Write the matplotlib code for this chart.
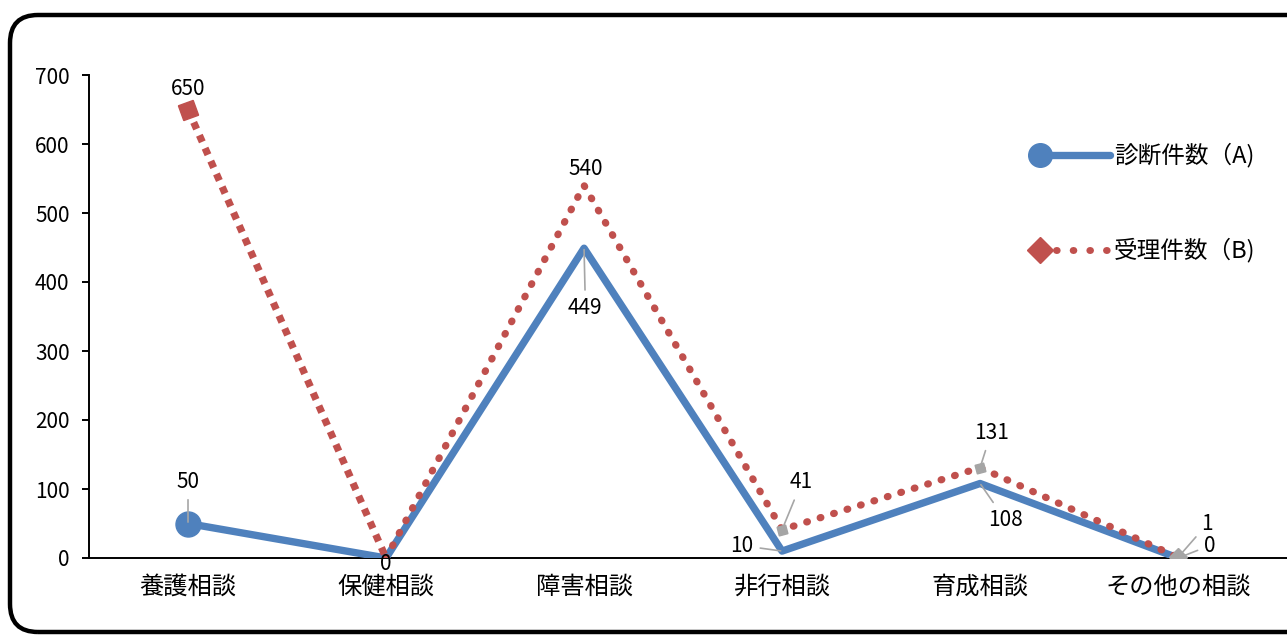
import matplotlib.pyplot as plt
from matplotlib.lines import Line2D
from matplotlib.patches import FancyBboxPatch

plt.rcParams['font.family'] = ['Noto Sans CJK JP', 'DejaVu Sans']

# data
categories = ['養護相談', '保健相談', '障害相談', '非行相談', '育成相談', 'その他の相談']
diagnosed = [50, 0, 449, 10, 108, 0]     # 診断件数（A)
received = [650, 0, 540, 41, 131, 1]     # 受理件数（B)
yticks = [0, 100, 200, 300, 400, 500, 600, 700]
legend_labels = ['診断件数（A)', '受理件数（B)']

blue = '#4F81BD'
red = '#C0504D'
grey = '#A5A5A5'
W, H = 1287, 635

fig = plt.figure(figsize=(W / 100, H / 100), dpi=100)
ax = fig.add_axes([89 / W, 77 / H, 1198 / W, 483 / H])

x = list(range(len(categories)))

# series A
ax.plot(x, diagnosed, color=blue, lw=5.3, solid_capstyle='round',
        solid_joinstyle='round', zorder=3)
ax.plot(x[0], diagnosed[0], 'o', ms=18, color=blue, zorder=5)

# series B: first segment square dots, the rest round dots
ax.plot(x[:2], received[:2], color=red, lw=5.2, linestyle=(0, (1, 0.95)),
        dash_capstyle='butt', zorder=4)
ax.plot(x[1:], received[1:], color=red, lw=5.2, linestyle=(0, (0.1, 1.85)),
        dash_capstyle='round', zorder=4)
ax.plot(x[0], received[0], marker=(4, 0, 65), ms=16, color=red, zorder=5)
ax.plot([x[3], x[4]], [received[3], received[4]], marker=(4, 0, 60), ls='none',
        ms=9, color=grey, zorder=6)
ax.plot(x[5], received[5], 'D', ms=9, color=grey, zorder=6)

# data labels: (dx, dy in points, leader line)
a_pos = [(0, 30, True), (0, -4, False), (1, -43, True), (-29, 4, True),
         (18, -26, True), (23, 9, True)]
b_pos = [(0, 15, False), None, (1, 12, False), (14, 34, True),
         (8, 25, True), (21, 24, True)]

for vals, pos in [(diagnosed, a_pos), (received, b_pos)]:
    for i, v in enumerate(vals):
        if pos[i] is None:
            continue
        dx, dy, lead = pos[i]
        ap = None
        if lead:
            ap = dict(arrowstyle='-', color='#A6A6A6', lw=1.2,
                      shrinkA=3, shrinkB=1)
        ax.annotate(str(v), (x[i], v), xytext=(dx, dy), textcoords='offset points',
                    ha='center', va='center', fontsize=15, color='black',
                    arrowprops=ap, zorder=7)

ax.set_xlim(-0.5, 5.55)
ax.set_ylim(0, 700)
ax.set_yticks(yticks)
ax.set_xticks(x)
ax.set_xticklabels(categories, fontsize=17.5)
ax.tick_params(axis='y', labelsize=15, length=5, width=1.4, pad=9)
ax.tick_params(axis='x', length=0, pad=11)
for s in ['top', 'right']:
    ax.spines[s].set_visible(False)
for s in ['left', 'bottom']:
    ax.spines[s].set_linewidth(1.4)

# legend drawn by hand (marker sits at the left end like the original)
def fx(px):
    return px / W

def fy(py):
    return 1 - py / H

ya, yb = 155, 250
fig.add_artist(Line2D([fx(1040), fx(1110)], [fy(ya), fy(ya)], color=blue, lw=5.3,
                      solid_capstyle='round', transform=fig.transFigure))
fig.add_artist(Line2D([fx(1040)], [fy(ya)], marker='o', ms=17, color=blue,
                      transform=fig.transFigure))
fig.add_artist(Line2D([fx(1056), fx(1110)], [fy(yb), fy(yb)], color=red, lw=5,
                      linestyle=(0, (0.1, 2.3)), dash_capstyle='round',
                      transform=fig.transFigure))
fig.add_artist(Line2D([fx(1040)], [fy(yb)], marker='D', ms=13, color=red,
                      transform=fig.transFigure))
fig.text(fx(1114), fy(ya), legend_labels[0], fontsize=17, va='center', ha='left')
fig.text(fx(1114), fy(yb), legend_labels[1], fontsize=17, va='center', ha='left')

# rounded outer frame, right side runs off the picture
frame = FancyBboxPatch((0.10, 0.03), 13.6, 6.17,
                       boxstyle='round,pad=0,rounding_size=0.28',
                       transform=fig.dpi_scale_trans, fill=False,
                       lw=3.2, ec='black')
fig.add_artist(frame)

fig.savefig('out.png', dpi=100)
